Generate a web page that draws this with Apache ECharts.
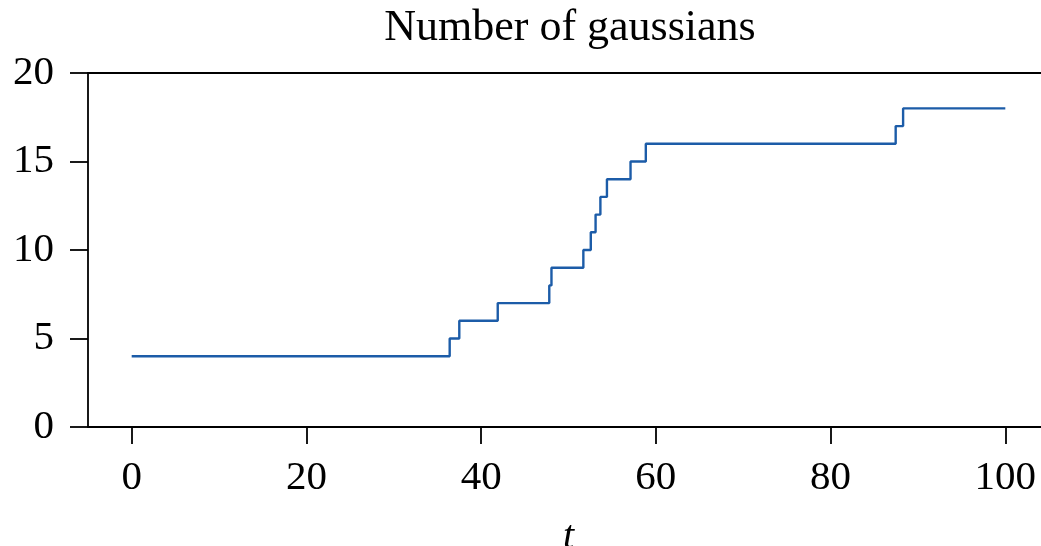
<!DOCTYPE html>
<html>
<head>
<meta charset="utf-8">
<script src="https://cdn.jsdelivr.net/npm/echarts@6/dist/echarts.min.js"></script>
<style>
  html, body { margin: 0; padding: 0; background: #fff; }
  #chart { width: 1041px; height: 546px; }
</style>
</head>
<body>
<div id="chart"></div>
<script>
// Times at which the number of gaussians changes, and the count from that time on
const changeTimes = [0, 36.4, 37.5, 41.9, 47.8, 48.05, 51.7, 52.55, 53.1, 53.65, 54.4, 57.1, 58.85, 87.45, 88.3, 100];
const gaussianCounts = [4, 5, 6, 7, 8, 9, 10, 11, 12, 13, 14, 15, 16, 17, 18, 18];
const xTickValues = [0, 20, 40, 60, 80, 100];
const yTickValues = [0, 5, 10, 15, 20];

const seriesData = changeTimes.map((t, i) => [t, gaussianCounts[i]]);

const serif = '"Liberation Serif", "DejaVu Serif", serif';
const axisColor = '#000';

const chart = echarts.init(document.getElementById('chart'), null, { renderer: 'canvas' });

chart.setOption({
  animation: false,
  backgroundColor: '#fff',
  title: {
    text: 'Number of gaussians',
    left: 565,
    top: 1,
    textAlign: 'center',
    textStyle: { fontFamily: serif, fontSize: 44, fontWeight: 'normal', color: '#000' }
  },
  grid: { left: 88, top: 73, right: -8, bottom: 119, containLabel: false, outerBoundsMode: 'none' },
  xAxis: [
    {
      type: 'value',
      min: -5,
      max: 105,
      name: 't',
      nameLocation: 'middle',
      nameGap: 90,
      nameTextStyle: { fontFamily: serif, fontSize: 40, fontStyle: 'italic', color: '#000' },
      axisLine: { show: true, onZero: false, lineStyle: { color: axisColor, width: 1.8 } },
      axisTick: { show: true, length: 17, customValues: xTickValues, lineStyle: { color: axisColor, width: 1.8 } },
      axisLabel: { customValues: xTickValues, margin: 31, fontFamily: serif, fontSize: 41, color: '#000' },
      splitLine: { show: false }
    },
    {
      type: 'value',
      position: 'top',
      min: -5,
      max: 105,
      axisLine: { show: true, onZero: false, lineStyle: { color: axisColor, width: 1.8 } },
      axisTick: { show: false },
      axisLabel: { show: false },
      splitLine: { show: false }
    }
  ],
  yAxis: [
    {
      type: 'value',
      min: 0,
      max: 20,
      interval: 5,
      axisLine: { show: true, onZero: false, lineStyle: { color: axisColor, width: 1.8 } },
      axisTick: { show: true, length: 18, customValues: yTickValues, lineStyle: { color: axisColor, width: 1.8 } },
      axisLabel: { customValues: yTickValues, margin: 34, fontFamily: serif, fontSize: 41, color: '#000' },
      splitLine: { show: false }
    },
    {
      type: 'value',
      position: 'right',
      min: 0,
      max: 20,
      axisLine: { show: true, onZero: false, lineStyle: { color: axisColor, width: 1.8 } },
      axisTick: { show: false },
      axisLabel: { show: false },
      splitLine: { show: false }
    }
  ],
  series: [
    {
      type: 'line',
      step: 'end',
      data: seriesData,
      showSymbol: false,
      symbol: 'none',
      lineStyle: { color: '#1c5ca8', width: 2.4 },
      silent: true
    }
  ]
});
</script>
</body>
</html>
